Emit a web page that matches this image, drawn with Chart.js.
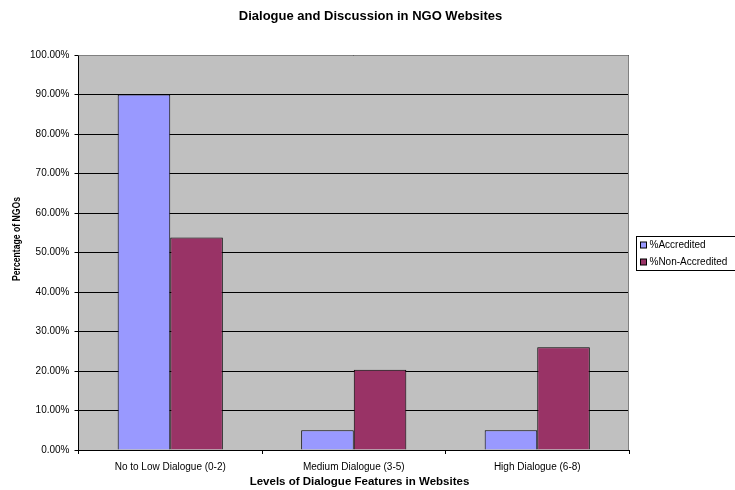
<!DOCTYPE html>
<html>
<head>
<meta charset="utf-8">
<script src="https://cdn.jsdelivr.net/npm/chart.js@4/dist/chart.umd.min.js"></script>
<style>
html,body{margin:0;padding:0;background:#fff;}
#wrap{width:735px;height:490px;position:relative;}
</style>
</head>
<body>
<div id="wrap"><canvas id="c" width="735" height="490"></canvas></div>
<script>
const categories = ["No to Low Dialogue (0-2)", "Medium Dialogue (3-5)", "High Dialogue (6-8)"];
const seriesNames = ["%Accredited", "%Non-Accredited"];
const accredited = [90.0, 5.0, 5.0];
const nonAccredited = [53.8, 20.3, 26.0];
const yTicks = [0, 10, 20, 30, 40, 50, 60, 70, 80, 90, 100];
const chartTitle = "Dialogue and Discussion in NGO Websites";
const xTitle = "Levels of Dialogue Features in Websites";
const yTitle = "Percentage of NGOs";

const FONT = "'Liberation Sans', Arial, sans-serif";

const plotBg = {
  id: 'plotBg',
  beforeDraw(chart) {
    const {ctx, chartArea: a} = chart;
    ctx.save();
    ctx.fillStyle = '#C0C0C0';
    ctx.fillRect(a.left, a.top, a.right - a.left, a.bottom - a.top);
    ctx.restore();
  },
  afterDatasetsDraw(chart) {
    const {ctx, chartArea: a} = chart;
    ctx.save();
    ctx.strokeStyle = '#808080';
    ctx.lineWidth = 1;
    ctx.beginPath();
    ctx.moveTo(a.left, a.top + 0.5);
    ctx.lineTo(a.right - 0.5, a.top + 0.5);
    ctx.lineTo(a.right - 0.5, a.bottom);
    ctx.stroke();
    ctx.restore();
  }
};

const titles = {
  id: 'titles',
  afterDraw(chart) {
    const {ctx} = chart;
    ctx.save();
    ctx.fillStyle = '#000';
    ctx.textAlign = 'center';
    ctx.textBaseline = 'alphabetic';
    ctx.font = 'bold 13px ' + FONT;
    ctx.fillText(chartTitle, 370.5, 20);
    ctx.font = 'bold 11.5px ' + FONT;
    ctx.fillText(xTitle, 359.5, 485);
    ctx.translate(17, 239);
    ctx.rotate(-Math.PI / 2);
    ctx.textBaseline = 'middle';
    ctx.font = 'bold 10px ' + FONT;
    const w = ctx.measureText(yTitle).width;
    ctx.scale(84 / w, 1);
    ctx.fillText(yTitle, 0, 0);
    ctx.restore();
  }
};

const boxLegend = {
  id: 'boxLegend',
  afterDraw(chart) {
    const {ctx} = chart;
    const x = 636.5, y = 236.5, w = 110, h = 34;
    ctx.save();
    ctx.fillStyle = '#fff';
    ctx.fillRect(x, y, w, h);
    ctx.strokeStyle = '#000';
    ctx.lineWidth = 1;
    ctx.strokeRect(x, y, w, h);
    ctx.font = '10px ' + FONT;
    ctx.textBaseline = 'middle';
    chart.data.datasets.forEach((ds, i) => {
      const cy = 245 + i * 17;
      ctx.fillStyle = ds.backgroundColor;
      ctx.fillRect(640.5, cy - 3, 6, 6);
      ctx.strokeStyle = '#000';
      ctx.strokeRect(640.5, cy - 3, 6, 6);
      ctx.fillStyle = '#000';
      ctx.fillText(ds.label, 649.5, cy + 0.5);
    });
    ctx.restore();
  }
};

new Chart(document.getElementById('c'), {
  type: 'bar',
  data: {
    labels: categories,
    datasets: [
      { label: seriesNames[0], data: accredited, backgroundColor: '#9999FF', borderColor: '#000', borderWidth: 1 },
      { label: seriesNames[1], data: nonAccredited, backgroundColor: '#993366', borderColor: '#000', borderWidth: 1 }
    ]
  },
  options: {
    responsive: false,
    animation: false,
    devicePixelRatio: 1,
    layout: { padding: { left: 0, right: 106, top: 55, bottom: 0 } },
    datasets: { bar: { categoryPercentage: 0.573, barPercentage: 1.0 } },
    plugins: {
      legend: { display: false },
      tooltip: { enabled: false },
      title: { display: false }
    },
    scales: {
      x: {
        grid: { display: true, drawOnChartArea: false, drawTicks: true, tickLength: 4, color: '#000', offset: true },
        border: { display: true, color: '#000', width: 1 },
        ticks: { color: '#000', font: { family: FONT, size: 10 }, padding: 7, maxRotation: 0 },
        afterFit(s) { s.height = 40; }
      },
      y: {
        min: 0, max: 100,
        afterBuildTicks(s) { s.ticks = yTicks.map(v => ({ value: v })); },
        grid: { color: '#000', lineWidth: 1, drawTicks: true, tickLength: 4, tickColor: '#000' },
        border: { display: true, color: '#000', width: 1 },
        ticks: { color: '#000', font: { family: FONT, size: 10 }, padding: 5, callback: v => Number(v).toFixed(2) + '%' },
        afterFit(s) { s.width = 78.5; }
      }
    }
  },
  plugins: [plotBg, titles, boxLegend]
});
</script>
</body>
</html>
